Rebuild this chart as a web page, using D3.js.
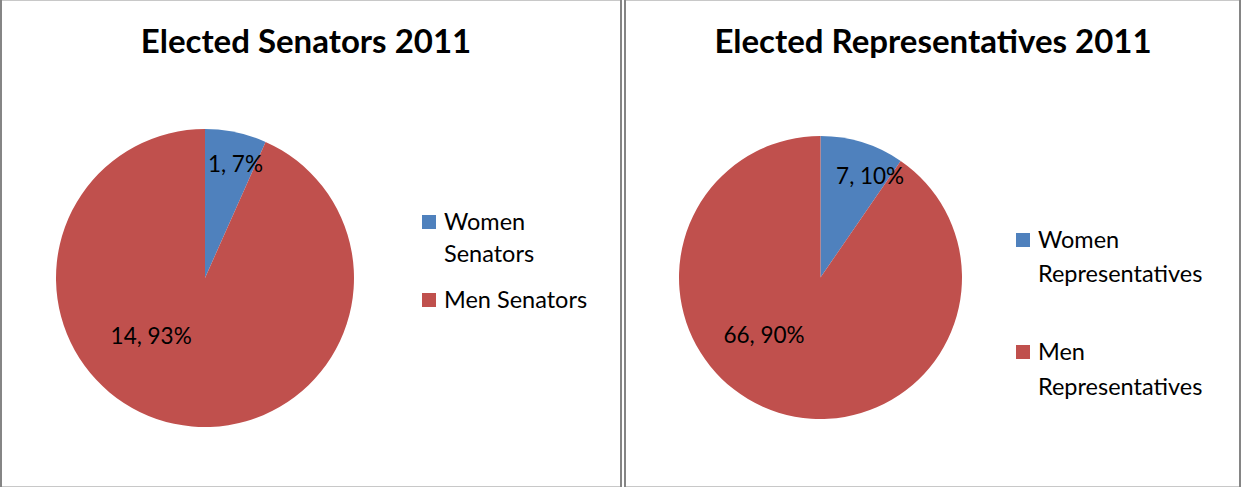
<!DOCTYPE html>
<html>
<head>
<meta charset="utf-8">
<script src="https://cdn.jsdelivr.net/npm/d3@7"></script>
<style>
  html, body { margin: 0; padding: 0; background: #fff; }
  svg { display: block; }
  text { font-family: Lato, "Open Sans", sans-serif; fill: #000; }
</style>
</head>
<body>
<svg id="chart" width="1241" height="487"></svg>
<script>
// ---- Data ----
const senatorCategories = ["Women Senators", "Men Senators"];
const senatorValues = [1, 14];
const senatorPercents = ["7%", "93%"];

const repCategories = ["Women Representatives", "Men Representatives"];
const repValues = [7, 66];
const repPercents = ["10%", "90%"];

const titles = ["Elected Senators 2011", "Elected Representatives 2011"];
const colors = ["#4F81BD", "#C0504D"];

// ---- Layout (not data) ----
const titleSize = 33, labelSize = 22.5, legendSize = 23.5;
const panels = [
  { x0: 0, x1: 622, cx: 205, cy: 278, r: 149, titleX: 306, wrap: 158,
    legendX: 422, legendBaselines: [[230, 262], [308]],
    labelPos: [{ a: 15, f: 0.79 }, { a: 223, f: 0.53 }] },
  { x0: 624, x1: 1241, cx: 820.5, cy: 277.5, r: 141.5, titleX: 933, wrap: 185,
    legendX: 1016, legendBaselines: [[248, 282], [360, 395]],
    labelPos: [{ a: 26, f: 0.80 }, { a: 224.5, f: 0.57 }] }
];

const datasets = [
  { cats: senatorCategories, vals: senatorValues, pcts: senatorPercents },
  { cats: repCategories, vals: repValues, pcts: repPercents }
];

const svg = d3.select("#chart");

panels.forEach((p, i) => {
  const ds = datasets[i];
  const g = svg.append("g");

  // frame
  g.append("line").attr("x1", p.x0).attr("x2", p.x1).attr("y1", 0.5).attr("y2", 0.5)
    .attr("stroke", "#c8c8c8").attr("stroke-width", 1);
  g.append("line").attr("x1", p.x0).attr("x2", p.x1).attr("y1", 486.5).attr("y2", 486.5)
    .attr("stroke", "#c8c8c8").attr("stroke-width", 1);
  g.append("line").attr("x1", p.x0 + 1).attr("x2", p.x0 + 1).attr("y1", 0).attr("y2", 487)
    .attr("stroke", "#858585").attr("stroke-width", 2);
  g.append("line").attr("x1", p.x1 - 1).attr("x2", p.x1 - 1).attr("y1", 0).attr("y2", 487)
    .attr("stroke", "#858585").attr("stroke-width", 2);

  // title
  g.append("text")
    .attr("x", p.titleX).attr("y", 53)
    .attr("text-anchor", "middle")
    .attr("font-size", titleSize).attr("font-weight", "bold")
    .text(titles[i]);

  // pie
  const pie = d3.pie().sort(null).value(d => d)(ds.vals);
  const arc = d3.arc().innerRadius(0).outerRadius(p.r);
  const pg = g.append("g").attr("transform", `translate(${p.cx},${p.cy})`);
  pg.selectAll("path").data(pie).join("path")
    .attr("d", arc)
    .attr("fill", (d, j) => colors[j]);

  // labels
  pg.selectAll("text.lbl").data(pie).join("text")
    .attr("class", "lbl")
    .attr("x", (d, j) => Math.sin(p.labelPos[j].a * Math.PI / 180) * p.r * p.labelPos[j].f)
    .attr("y", (d, j) => -Math.cos(p.labelPos[j].a * Math.PI / 180) * p.r * p.labelPos[j].f)
    .attr("dy", "0.35em")
    .attr("text-anchor", "middle")
    .attr("font-size", labelSize)
    .text((d, j) => `${ds.vals[j]}, ${ds.pcts[j]}`);

  // legend
  ds.cats.forEach((c, j) => {
    const bl = p.legendBaselines[j];
    g.append("rect")
      .attr("x", p.legendX).attr("y", bl[0] - 15)
      .attr("width", 14).attr("height", 14)
      .attr("fill", colors[j]);
    const words = c.split(" ");
    const lines = [];
    let cur = "";
    const tmp = g.append("text").attr("font-size", legendSize);
    words.forEach(w => {
      const test = cur ? cur + " " + w : w;
      tmp.text(test);
      if (tmp.node().getComputedTextLength() > p.wrap && cur) {
        lines.push(cur); cur = w;
      } else cur = test;
    });
    lines.push(cur);
    tmp.remove();
    lines.forEach((ln, k) => {
      g.append("text")
        .attr("x", p.legendX + 22)
        .attr("y", bl[Math.min(k, bl.length - 1)] + (k >= bl.length ? 33 : 0))
        .attr("font-size", legendSize)
        .text(ln);
    });
  });
});
</script>
</body>
</html>
